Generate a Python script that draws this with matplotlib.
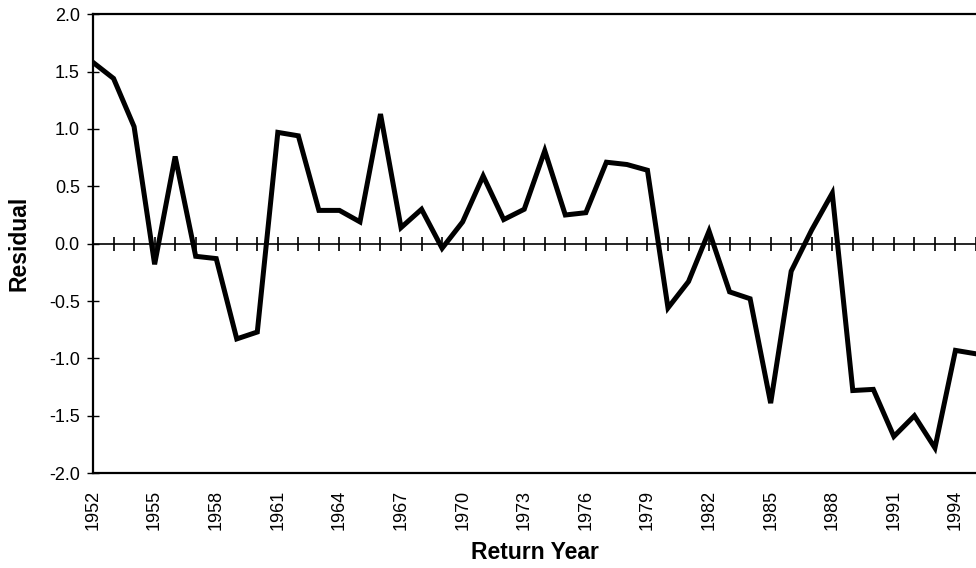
import matplotlib.pyplot as plt
import numpy as np

plt.rcParams['font.family'] = ['Liberation Sans', 'DejaVu Sans']

# Residual by return year
years = np.arange(1952, 1996)
residual = [1.58, 1.44, 1.02, -0.18, 0.76, -0.11, -0.13, -0.83, -0.77, 0.97,
            0.94, 0.29, 0.29, 0.19, 1.13, 0.14, 0.30, -0.04, 0.19, 0.59,
            0.21, 0.30, 0.81, 0.25, 0.27, 0.71, 0.69, 0.64, -0.56, -0.33,
            0.11, -0.42, -0.48, -1.39, -0.24, 0.12, 0.44, -1.28, -1.27, -1.68,
            -1.50, -1.78, -0.93, -0.96]
label_years = np.arange(1952, 1995, 3)
y_ticks = np.arange(-2.0, 2.01, 0.5)

fig = plt.figure(figsize=(9.76, 5.68), dpi=100)
ax = fig.add_axes([0.0953, 0.167, 0.9047, 0.808])

ax.plot(years, residual, color='black', linewidth=3.6, solid_joinstyle='miter')

ax.set_xlim(1952, 1995)
ax.set_ylim(-2.0, 2.0)

# y axis
ax.set_yticks(y_ticks)
ax.set_yticklabels([f'{v:.1f}' for v in y_ticks], fontsize=13)
ax.tick_params(axis='y', direction='inout', length=9, width=1, pad=5)

# bottom labels only, no marks
ax.set_xticks(label_years)
ax.set_xticklabels([str(y) for y in label_years], rotation=90, fontsize=13)
ax.tick_params(axis='x', length=0, pad=12)

# zero line with a tick at every year
zero_ax = ax.secondary_xaxis(0.5)
zero_ax.set_xticks(years)
zero_ax.tick_params(axis='x', direction='inout', length=10, width=1.2,
                    labelbottom=False, labeltop=False)
zero_ax.spines['bottom'].set_linewidth(1.2)
zero_ax.spines['top'].set_linewidth(1.2)

for side in ['left', 'bottom', 'top']:
    ax.spines[side].set_linewidth(1.6)
ax.spines['right'].set_visible(False)

ax.set_ylabel('Residual', fontsize=16.5, fontweight='bold', labelpad=13)
ax.set_xlabel('Return Year', fontsize=16.5, fontweight='bold', labelpad=8)

plt.savefig('out.png', dpi=100)
